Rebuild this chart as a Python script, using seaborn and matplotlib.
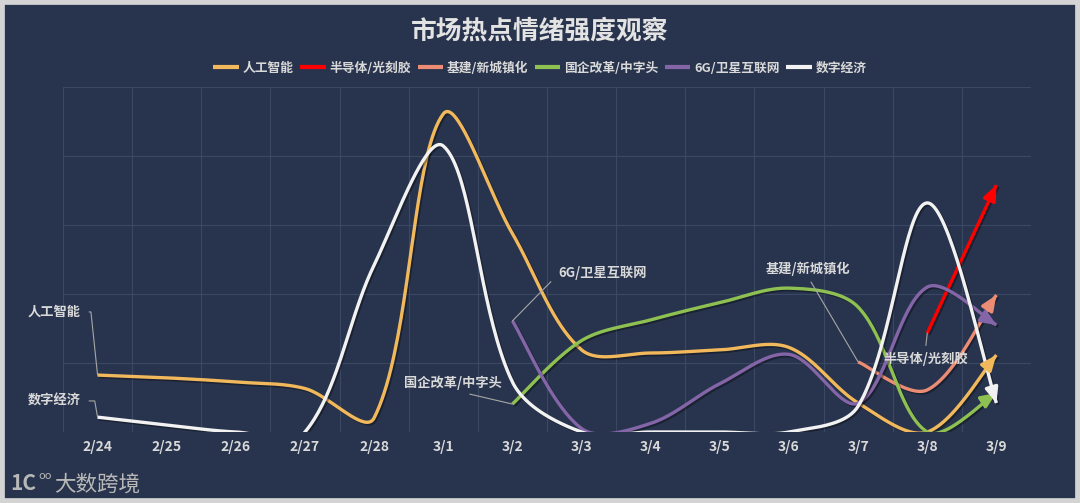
import numpy as np
import pandas as pd
import matplotlib
matplotlib.use("Agg")
import matplotlib.pyplot as plt
import matplotlib.patheffects as pe
from matplotlib.patches import Rectangle
import seaborn as sns

# data (0-100 scale, nan = no value)
nan = np.nan
dates = ["2/24", "2/25", "2/26", "2/27", "2/28", "3/1", "3/2",
         "3/3", "3/4", "3/5", "3/6", "3/7", "3/8", "3/9"]
ai = [16.5, 15.7, 14.5, 12.6, 4.1, 92.2, 57.5, 23.8, 22.9, 23.8, 24.5, 8.4, 0, 22.3]
chip = [nan] * 12 + [28.7, 71.6]
infra = [nan] * 11 + [20.3, 12.2, 39.7]
soe = [nan] * 6 + [8.1, 26.5, 32.5, 37.5, 41.7, 36.2, 0, 11.3]
sat = [nan] * 6 + [32.2, 1.0, 2.5, 14.0, 22.5, 8.4, 42.0, 31.0]
digital = [4.3, 2.0, 0, 0, 48.4, 82.9, 14.5, 0, 0, 0, 0, 7.5, 66.4, 8.4]

names = ["人工智能", "半导体/光刻胶", "基建/新城镇化", "国企改革/中字头", "6G/卫星互联网", "数字经济"]
series = [ai, chip, infra, soe, sat, digital]
colors = ["#f2b95c", "#ff0000", "#ec8c74", "#8fc152", "#8466a8", "#f2f2f2"]

bg = "#28344d"
grid_c = "#3b4864"
text_c = "#d9d9d9"

# pixels per data unit, used so the smoothing works in screen space
SX, SY = 69.14, 3.45


def smooth(vals, n=40):
    # bezier smoothing; control arms follow the neighbour chord and are split by segment length
    idx = [i for i, v in enumerate(vals) if not np.isnan(v)]
    P = np.column_stack([np.array(idx, float) * SX,
                         np.array([vals[i] for i in idx], float) * SY])
    m = len(P)
    fwd = np.zeros_like(P)
    back = np.zeros_like(P)
    for i in range(m):
        p0 = P[i - 1] if i > 0 else P[i]
        p2 = P[i + 1] if i < m - 1 else P[i]
        v = p2 - p0
        d01 = np.hypot(*(P[i] - p0))
        d12 = np.hypot(*(p2 - P[i]))
        if i == 0 or i == m - 1:
            fwd[i] = back[i] = v / 6
            continue
        fwd[i] = v / 3 * d12 / (d01 + d12)
        back[i] = v / 3 * d01 / (d01 + d12)
    out = []
    for k in range(m - 1):
        a, d = P[k], P[k + 1]
        b, c = a + fwd[k], d - back[k + 1]
        t = np.linspace(0, 1, n, endpoint=(k == m - 2))[:, None]
        out.append((1 - t) ** 3 * a + 3 * (1 - t) ** 2 * t * b + 3 * (1 - t) * t ** 2 * c + t ** 3 * d)
    out = np.vstack(out)
    return out[:, 0] / SX, out[:, 1] / SY


rows = []
for name, vals in zip(names, series):
    sx, sy = smooth(vals)
    for i, (a, b) in enumerate(zip(sx, sy)):
        rows.append({"name": name, "order": i, "x": a, "y": b})
df = pd.DataFrame(rows)

sns.set_style("white")
plt.rcParams["font.family"] = ["Noto Sans CJK SC", "DejaVu Sans"]

fig = plt.figure(figsize=(10.8, 5.03), dpi=100, facecolor=bg)
ax = fig.add_axes([63 / 1080, 1 - 432 / 503, (1031 - 63) / 1080, (432 - 87) / 503])
ax.set_facecolor(bg)

sns.lineplot(data=df, x="x", y="y", hue="name", hue_order=names,
             palette=dict(zip(names, colors)), sort=False, estimator=None,
             units="name", linewidth=2.4, ax=ax, legend=True)

shadow = [pe.SimpleLineShadow(offset=(1.2, -1.2), shadow_color="black", alpha=0.35), pe.Normal()]
for line in ax.get_lines():
    line.set_path_effects(shadow)
    line.set_solid_capstyle("butt")

# arrow heads at the end of every series
for name, c in zip(names, colors):
    d = df[df["name"] == name]
    xe, ye = d["x"].values, d["y"].values
    ax.annotate("", xy=(xe[-1], ye[-1]), xytext=(xe[-4], ye[-4]),
                arrowprops=dict(arrowstyle="-|>,head_length=0.75,head_width=0.32",
                                color=c, lw=2.4, shrinkA=0, shrinkB=0,
                                mutation_scale=12))

ax.set_xlim(-0.5, 13.5)
ax.set_ylim(0, 100)
for v in np.arange(-0.5, 13.6, 1):
    ax.axvline(v, color=grid_c, lw=0.8, zorder=0)
for v in range(0, 101, 20):
    ax.axhline(v, color=grid_c, lw=0.8, zorder=0)
for s in ax.spines.values():
    s.set_visible(False)
ax.set_xticks(range(len(dates)))
ax.set_xticklabels(dates, fontsize=10, fontweight="bold", color=text_c)
ax.set_yticks([])
ax.tick_params(axis="x", length=0, pad=6)
ax.set_xlabel("")
ax.set_ylabel("")

# series labels with leader lines
lab = dict(fontsize=9.5, color=text_c, fontweight="bold")
lead = dict(arrowstyle="-", color="#a6a6a6", lw=0.8)
ax.annotate("人工智能", xy=(0, 16.5), xytext=(-0.25, 34.8), ha="right", va="center",
            arrowprops=dict(lead, relpos=(1, 0.5), shrinkA=4, shrinkB=0,
                            connectionstyle="angle,angleA=0,angleB=96,rad=0"), **lab)
ax.annotate("数字经济", xy=(0, 4.3), xytext=(-0.25, 9.0), ha="right", va="center",
            arrowprops=dict(lead, relpos=(1, 0.5), shrinkA=4, shrinkB=0,
                            connectionstyle="angle,angleA=0,angleB=100,rad=0"), **lab)
ax.annotate("6G/卫星互联网", xy=(6, 32.2), xytext=(6.66, 46.1), ha="left", va="center",
            arrowprops=dict(lead, relpos=(0, 0.4), shrinkA=4, shrinkB=0), **lab)
ax.annotate("国企改革/中字头", xy=(6, 8.1), xytext=(5.14, 14.2), ha="center", va="center",
            arrowprops=dict(lead, relpos=(0.5, 0), shrinkA=2, shrinkB=0), **lab)
ax.annotate("基建/新城镇化", xy=(11, 20.3), xytext=(10.27, 47.2), ha="center", va="center",
            arrowprops=dict(lead, relpos=(0.5, 0), shrinkA=2, shrinkB=0), **lab)
ax.annotate("半导体/光刻胶", xy=(12, 28.7), xytext=(11.97, 21.2), ha="center", va="center",
            arrowprops=dict(lead, relpos=(0.5, 1), shrinkA=2, shrinkB=0), **lab)

# legend
handles, labels = ax.get_legend_handles_labels()
ax.get_legend().remove()
for h in handles:
    h.set_linewidth(3)
    h.set_path_effects([])
leg = fig.legend(handles, labels, loc="center", bbox_to_anchor=(0.5, 1 - 68 / 503),
                 ncol=6, frameon=False, fontsize=9.2, handlelength=2.0,
                 handletextpad=0.3, columnspacing=0.5)
for t in leg.get_texts():
    t.set_color(text_c)
    t.set_fontweight("bold")

fig.text(0.5, 1 - 31 / 503, "市场热点情绪强度观察", ha="center", va="center",
         fontsize=18.5, fontweight="bold", color="#e3e3e3")

# watermark
fig.text(10 / 1080, 1 - 484 / 503, "1C", ha="left", va="center", fontsize=15,
         color="#b8b8b8", fontweight="bold")
fig.text(38 / 1080, 1 - 476 / 503, "oo", ha="left", va="center", fontsize=8, color="#b8b8b8")
fig.text(54 / 1080, 1 - 485 / 503, "大数跨境", ha="left", va="center", fontsize=15.5, color="#b8b8b8")

fig.patches.append(Rectangle((0, 0), 1, 1, transform=fig.transFigure, fill=False,
                             ec="#d4d4d4", lw=7))

fig.savefig("out.png", dpi=100, facecolor=bg)
